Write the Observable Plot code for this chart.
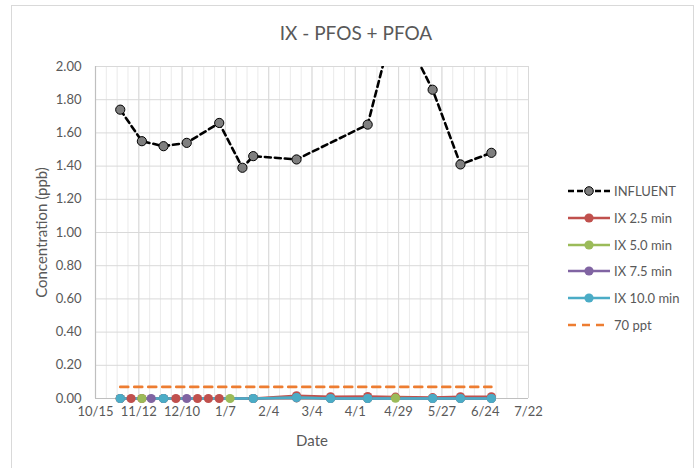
<!DOCTYPE html>
<html><head><meta charset="utf-8">
<script src="https://cdn.jsdelivr.net/npm/d3@7"></script>
<script src="https://cdn.jsdelivr.net/npm/@observablehq/plot@0.6"></script>
<style>
body{margin:0;background:#fff;font-family:Lato,"Open Sans",sans-serif;}
#wrap{position:relative;width:700px;height:468px;overflow:hidden;background:#fff;}
#frame{position:absolute;left:11px;top:5px;width:683px;height:480px;border:1px solid #d9d9d9;box-sizing:border-box;}
#title{position:absolute;left:6px;top:21px;width:700px;text-align:center;font-size:19px;color:#595959;}
#chart{position:absolute;left:0;top:0;}
#chart g[aria-label="y-axis label"], #chart g[aria-label="x-axis label"]{font-size:15px;}
#chart g[aria-label="y-axis label"] text, #chart g[aria-label="x-axis label"] text{font-size:15px;}
#legend{position:absolute;left:566px;top:178px;font-size:13px;color:#595959;}
#legend .row{display:flex;align-items:center;height:26.7px;}
#legend svg{margin-right:2px;}
</style></head>
<body>
<div id="wrap">
  <div id="frame"></div>
  <div id="chart"></div>
  <div id="title">IX - PFOS + PFOA</div>
  <div id="legend"></div>
</div>
<script>
// ---- data ----
const seriesNames = ["INFLUENT", "IX 2.5 min", "IX 5.0 min", "IX 7.5 min", "IX 10.0 min", "70 ppt"];
const seriesColors = ["#000000", "#C0504D", "#9BBB59", "#8064A2", "#4BACC6", "#ED7D31"];

const influentDates = ["2018-10-31","2018-11-14","2018-11-28","2018-12-13","2019-01-03","2019-01-18","2019-01-25","2019-02-22","2019-04-09","2019-04-27","2019-05-21","2019-06-08","2019-06-28"];
const influentValues = [1.74, 1.55, 1.52, 1.54, 1.66, 1.39, 1.46, 1.44, 1.65, 2.30, 1.86, 1.41, 1.48];

const ix25Dates = ["2018-10-31","2018-11-07","2018-11-14","2018-11-28","2018-12-06","2018-12-20","2018-12-27","2019-01-03","2019-01-25","2019-02-22","2019-03-16","2019-04-09","2019-04-27","2019-05-21","2019-06-08","2019-06-28"];
const ix25Values = [0, 0, 0, 0, 0, 0, 0, 0, 0, 0.016, 0.010, 0.012, 0.008, 0.005, 0.010, 0.010];

const ix50Dates = ["2018-10-31","2018-11-14","2018-11-28","2019-01-10","2019-01-25","2019-02-22","2019-03-16","2019-04-09","2019-04-27","2019-05-21","2019-06-08","2019-06-28"];
const ix50Values = [0, 0, 0, 0, 0, 0.004, 0, 0, 0.002, 0, 0, 0];

const ix75Dates = ["2018-10-31","2018-11-20","2018-11-28","2018-12-13","2019-01-25","2019-02-22","2019-03-16","2019-04-09","2019-05-21","2019-06-08","2019-06-28"];
const ix75Values = [0, 0, 0, 0, 0, 0.004, 0, 0, 0, 0, 0];

const ix100Dates = ["2018-10-31","2018-11-28","2019-01-25","2019-02-22","2019-03-16","2019-04-09","2019-05-21","2019-06-08","2019-06-28"];
const ix100Values = [0, 0, 0, 0.006, 0, 0, 0, 0, 0];

const limitDates = ["2018-10-31", "2019-06-28"];
const limitValues = [0.07, 0.07];

const xDomain = ["2018-10-15", "2019-07-22"];
const xTickDates = ["2018-10-15","2018-11-12","2018-12-10","2019-01-07","2019-02-04","2019-03-04","2019-04-01","2019-04-29","2019-05-27","2019-06-24","2019-07-22"];
const yTicks = [0, 0.2, 0.4, 0.6, 0.8, 1.0, 1.2, 1.4, 1.6, 1.8, 2.0];

// ---- build tables ----
const P = d3.utcParse("%Y-%m-%d");
const rows = (name, dates, vals) => dates.map((d, i) => ({series: name, date: P(d), value: vals[i]}));
const influent = rows(seriesNames[0], influentDates, influentValues);
const ixSeries = [
  rows(seriesNames[1], ix25Dates, ix25Values),
  rows(seriesNames[2], ix50Dates, ix50Values),
  rows(seriesNames[3], ix75Dates, ix75Values),
  rows(seriesNames[4], ix100Dates, ix100Values)
];
const limit = rows(seriesNames[5], limitDates, limitValues);
const xStart = P(xDomain[0]), xEnd = P(xDomain[1]);
const xTicks = xTickDates.map(P);
const minorTicks = d3.utcMonday.range(xStart, d3.utcDay.offset(xEnd, 1));

const chart = Plot.plot({
  width: 700,
  height: 468,
  marginLeft: 95,
  marginRight: 172,
  marginTop: 66,
  marginBottom: 70,
  style: {fontFamily: "Lato, 'Open Sans', sans-serif", fontSize: "13px", color: "#595959", background: "transparent", overflow: "visible"},
  x: {type: "utc", domain: [xStart, xEnd]},
  y: {domain: [0, 2]},
  color: {domain: seriesNames, range: seriesColors},
  marks: [
    Plot.gridX(minorTicks, {stroke: "#d9d9d9", strokeOpacity: 0.55}),
    Plot.gridX(xTicks, {stroke: "#d9d9d9", strokeOpacity: 1}),
    Plot.gridY(yTicks, {stroke: "#d9d9d9", strokeOpacity: 1}),
    Plot.ruleX([xStart], {stroke: "#bfbfbf", strokeWidth: 1.2}),
    Plot.ruleY([0], {stroke: "#bfbfbf", strokeWidth: 1.2}),
    Plot.axisY(yTicks, {tickSize: 0, tickPadding: 14, tickFormat: d3.format(".2f"), fill: "#595959", label: null}),
    Plot.axisY([], {tickSize: 0, fill: "#595959",
      label: "Concentration (ppb)", labelAnchor: "center", labelArrow: "none", labelOffset: 59}),
    Plot.axisX(xTicks, {tickSize: 0, tickPadding: 8, tickFormat: d3.utcFormat("%-m/%-d"), fill: "#595959", label: null}),
    Plot.axisX([], {tickSize: 0, fill: "#595959",
      label: "Date", labelAnchor: "center", labelArrow: "none", labelOffset: 47}),
    Plot.line(influent, {x: "date", y: "value", stroke: "#000", strokeWidth: 2.6, strokeDasharray: "6,4", clip: true}),
    Plot.dot(influent, {x: "date", y: "value", r: 4.6, fill: "#7f7f7f", stroke: "#000", strokeWidth: 1, clip: true}),
    ...ixSeries.map(s => Plot.line(s, {x: "date", y: "value", stroke: "series", strokeWidth: 2.6})),
    ...ixSeries.map(s => Plot.dot(s, {x: "date", y: "value", r: 4.6, fill: "series", stroke: "none"})),
    Plot.line(limit, {x: "date", y: "value", stroke: "series", strokeWidth: 2.6, strokeDasharray: "8,6"})
  ]
});
document.getElementById("chart").appendChild(chart);

// ---- legend ----
const legend = d3.select("#legend");
seriesNames.forEach((name, i) => {
  const row = legend.append("div").attr("class", "row");
  const svg = row.append("svg").attr("width", 46).attr("height", 12);
  const line = svg.append("line").attr("x1", 2).attr("x2", 44).attr("y1", 6).attr("y2", 6)
    .attr("stroke", seriesColors[i]).attr("stroke-width", 2.4);
  if (i === 0) line.attr("stroke-dasharray", "6,3");
  if (i === 5) line.attr("stroke-dasharray", "8,6");
  if (i === 0) svg.append("circle").attr("cx", 23).attr("cy", 6).attr("r", 4.3).attr("fill", "#7f7f7f").attr("stroke", "#000");
  else if (i < 5) svg.append("circle").attr("cx", 23).attr("cy", 6).attr("r", 4.6).attr("fill", seriesColors[i]);
  row.append("span").text(name);
});
</script>
</body></html>
